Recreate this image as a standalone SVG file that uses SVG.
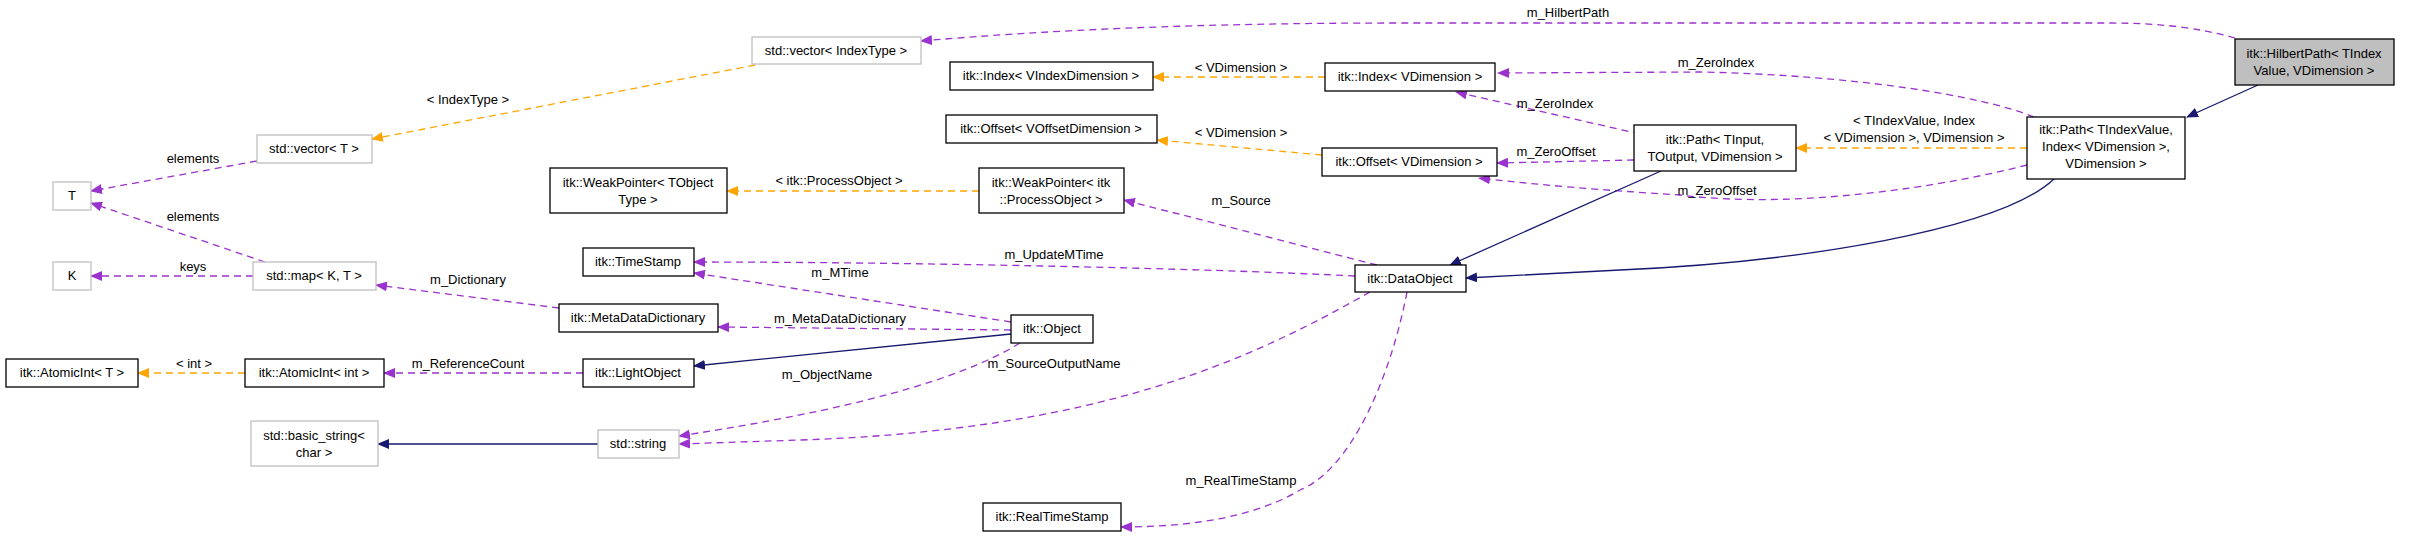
<svg xmlns="http://www.w3.org/2000/svg" width="2413" height="537" viewBox="0 0 2413 537">
<style>
text{font-family:"Liberation Sans",Arial,sans-serif;font-size:13px;fill:#000;text-anchor:middle}
.n rect{fill:#fff;stroke:#000;stroke-width:1.3}
.g rect{fill:#fff;stroke:#bfbfbf;stroke-width:1.3}
.h rect{fill:#bfbfbf;stroke:#000;stroke-width:1.3}
.p{fill:none;stroke:#9a32cd;stroke-width:1.3;stroke-dasharray:7,5;marker-end:url(#mp)}
.o{fill:none;stroke:#ffa500;stroke-width:1.3;stroke-dasharray:7,5;marker-end:url(#mo)}
.b{fill:none;stroke:#191970;stroke-width:1.3;marker-end:url(#mb)}
</style>
<defs>
<marker id="mp" markerWidth="12" markerHeight="10" refX="11" refY="5" orient="auto" markerUnits="userSpaceOnUse"><path d="M0,0L12,5L0,10z" fill="#9a32cd"/></marker>
<marker id="mo" markerWidth="12" markerHeight="10" refX="11" refY="5" orient="auto" markerUnits="userSpaceOnUse"><path d="M0,0L12,5L0,10z" fill="#ffa500"/></marker>
<marker id="mb" markerWidth="12" markerHeight="10" refX="11" refY="5" orient="auto" markerUnits="userSpaceOnUse"><path d="M0,0L12,5L0,10z" fill="#191970"/></marker>
</defs>
<rect width="2413" height="537" fill="#fff"/>
<g id="connectors">
<path class="p" d="M2235,38 C2200,28 2160,23 2110,23 L1400,23 C1200,23 1050,30 921,41"/>
<path class="b" d="M2258,85 L2187,117"/>
<path class="p" d="M2034,117 C1980,95 1850,75 1700,72 L1498,73"/>
<path class="p" d="M1640,134 L1456,92"/>
<path class="p" d="M1634,160 L1497,163"/>
<path class="p" d="M2027,165 C1950,185 1800,210 1680,195 C1600,190 1540,185 1479,178"/>
<path class="o" d="M2027,148 L1796,148"/>
<path class="b" d="M2054,179 C2000,230 1800,262 1620,270 L1466,278"/>
<path class="b" d="M1661,171 L1450,265"/>
<path class="o" d="M1325,77 L1153,77"/>
<path class="o" d="M1322,155 L1157,140"/>
<path class="o" d="M979,191 L727,191"/>
<path class="p" d="M1377,265 L1124,200"/>
<path class="p" d="M1355,276 C1200,268 900,262 694,262"/>
<path class="p" d="M1011,322 L694,273"/>
<path class="p" d="M1011,330 L718,327"/>
<path class="b" d="M1011,334 L694,366"/>
<path class="p" d="M583,373 L384,373"/>
<path class="o" d="M245,373 L138,373"/>
<path class="p" d="M559,308 L376,285"/>
<path class="p" d="M253,276 L91,276"/>
<path class="p" d="M265,262 L91,203"/>
<path class="p" d="M257,161 L91,191"/>
<path class="o" d="M755,65 L372,139"/>
<path class="b" d="M598,444 L378,444"/>
<path class="p" d="M1020,343 C960,380 850,410 679,436"/>
<path class="p" d="M1370,292 C1250,360 1100,430 800,440 L679,444"/>
<path class="p" d="M1407,292 C1390,380 1350,470 1300,490 C1250,520 1180,527 1121,527"/>
<text x="1568" y="17">m_HilbertPath</text>
<text x="1716" y="67">m_ZeroIndex</text>
<text x="1555" y="108">m_ZeroIndex</text>
<text x="1556" y="156">m_ZeroOffset</text>
<text x="1717" y="195">m_ZeroOffset</text>
<text x="1914" y="125">&lt; TIndexValue, Index</text>
<text x="1914" y="142">&lt; VDimension &gt;, VDimension &gt;</text>
<text x="1241" y="72">&lt; VDimension &gt;</text>
<text x="1241" y="137">&lt; VDimension &gt;</text>
<text x="839" y="185">&lt; itk::ProcessObject &gt;</text>
<text x="1241" y="205">m_Source</text>
<text x="1054" y="259">m_UpdateMTime</text>
<text x="840" y="277">m_MTime</text>
<text x="840" y="323">m_MetaDataDictionary</text>
<text x="1054" y="368">m_SourceOutputName</text>
<text x="827" y="379">m_ObjectName</text>
<text x="1241" y="485">m_RealTimeStamp</text>
<text x="468" y="368">m_ReferenceCount</text>
<text x="194" y="368">&lt; int &gt;</text>
<text x="468" y="284">m_Dictionary</text>
<text x="193" y="271">keys</text>
<text x="193" y="163">elements</text>
<text x="193" y="221">elements</text>
<text x="468" y="104">&lt; IndexType &gt;</text>
</g>
<g id="n_hilbert" class="h"><rect x="2235" y="39" width="159" height="46"/><text x="2314" y="58">itk::HilbertPath&lt; TIndex</text><text x="2314" y="75">Value, VDimension &gt;</text></g>
<g id="n_path_idx" class="n"><rect x="2027" y="117" width="158" height="62"/><text x="2106" y="134">itk::Path&lt; TIndexValue,</text><text x="2106" y="151">Index&lt; VDimension &gt;,</text><text x="2106" y="168">VDimension &gt;</text></g>
<g id="n_path" class="n"><rect x="1634" y="125" width="162" height="46"/><text x="1715" y="144">itk::Path&lt; TInput,</text><text x="1715" y="161">TOutput, VDimension &gt;</text></g>
<g id="n_vecidx" class="g"><rect x="752" y="37" width="169" height="27"/><text x="836" y="55">std::vector&lt; IndexType &gt;</text></g>
<g id="n_vect" class="g"><rect x="257" y="135" width="115" height="28"/><text x="314" y="153">std::vector&lt; T &gt;</text></g>
<g id="n_T" class="g"><rect x="53" y="182" width="38" height="28"/><text x="72" y="200">T</text></g>
<g id="n_K" class="g"><rect x="53" y="262" width="38" height="28"/><text x="72" y="280">K</text></g>
<g id="n_map" class="g"><rect x="253" y="262" width="123" height="28"/><text x="314" y="280">std::map&lt; K, T &gt;</text></g>
<g id="n_wpT" class="n"><rect x="550" y="168" width="177" height="45"/><text x="638" y="187">itk::WeakPointer&lt; TObject</text><text x="638" y="204">Type &gt;</text></g>
<g id="n_wpP" class="n"><rect x="979" y="168" width="145" height="45"/><text x="1051" y="187">itk::WeakPointer&lt; itk</text><text x="1051" y="204">::ProcessObject &gt;</text></g>
<g id="n_ts" class="n"><rect x="583" y="248" width="111" height="28"/><text x="638" y="266">itk::TimeStamp</text></g>
<g id="n_mdd" class="n"><rect x="559" y="304" width="159" height="28"/><text x="638" y="322">itk::MetaDataDictionary</text></g>
<g id="n_aiT" class="n"><rect x="6" y="359" width="132" height="28"/><text x="72" y="377">itk::AtomicInt&lt; T &gt;</text></g>
<g id="n_aiInt" class="n"><rect x="245" y="359" width="139" height="28"/><text x="314" y="377">itk::AtomicInt&lt; int &gt;</text></g>
<g id="n_lo" class="n"><rect x="583" y="359" width="111" height="28"/><text x="638" y="377">itk::LightObject</text></g>
<g id="n_bs" class="g"><rect x="251" y="421" width="127" height="45"/><text x="314" y="440">std::basic_string&lt;</text><text x="314" y="457">char &gt;</text></g>
<g id="n_str" class="g"><rect x="598" y="430" width="81" height="28"/><text x="638" y="448">std::string</text></g>
<g id="n_idxV" class="n"><rect x="950" y="62" width="203" height="28"/><text x="1051" y="80">itk::Index&lt; VIndexDimension &gt;</text></g>
<g id="n_idxD" class="n"><rect x="1325" y="63" width="170" height="28"/><text x="1410" y="81">itk::Index&lt; VDimension &gt;</text></g>
<g id="n_offV" class="n"><rect x="946" y="115" width="211" height="28"/><text x="1051" y="133">itk::Offset&lt; VOffsetDimension &gt;</text></g>
<g id="n_offD" class="n"><rect x="1322" y="148" width="175" height="28"/><text x="1409" y="166">itk::Offset&lt; VDimension &gt;</text></g>
<g id="n_do" class="n"><rect x="1355" y="265" width="111" height="27"/><text x="1410" y="283">itk::DataObject</text></g>
<g id="n_obj" class="n"><rect x="1011" y="315" width="82" height="28"/><text x="1052" y="333">itk::Object</text></g>
<g id="n_rts" class="n"><rect x="983" y="503" width="138" height="28"/><text x="1052" y="521">itk::RealTimeStamp</text></g>
</svg>
